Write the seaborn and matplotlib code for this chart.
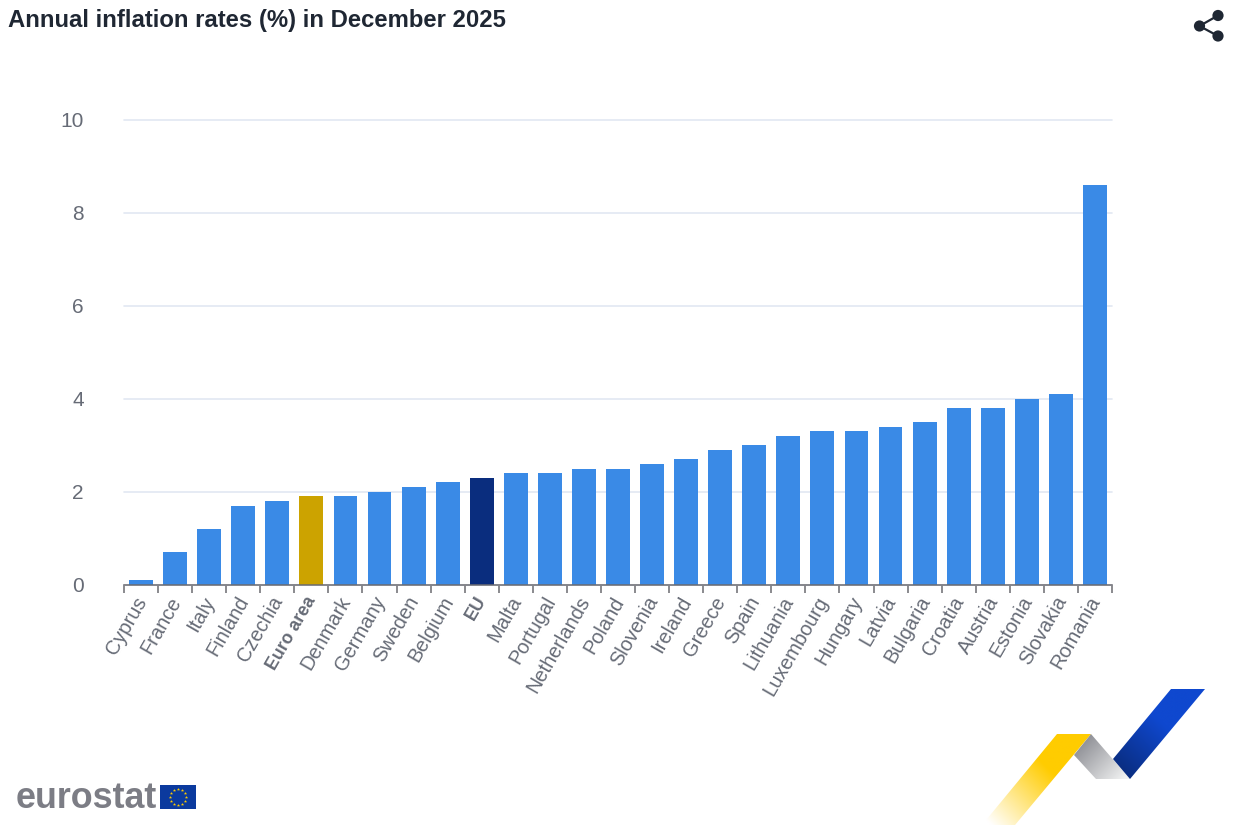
import numpy as np
import pandas as pd
import seaborn as sns
import matplotlib
matplotlib.use('Agg')
import matplotlib.pyplot as plt
from matplotlib.patches import Polygon, Circle, Rectangle
from matplotlib.transforms import ScaledTranslation

countries = ['Cyprus', 'France', 'Italy', 'Finland', 'Czechia', 'Euro area', 'Denmark', 'Germany',
             'Sweden', 'Belgium', 'EU', 'Malta', 'Portugal', 'Netherlands', 'Poland', 'Slovenia',
             'Ireland', 'Greece', 'Spain', 'Lithuania', 'Luxembourg', 'Hungary', 'Latvia', 'Bulgaria',
             'Croatia', 'Austria', 'Estonia', 'Slovakia', 'Romania']
rates = [0.1, 0.7, 1.2, 1.7, 1.8, 1.9, 1.9, 2.0, 2.1, 2.2, 2.3, 2.4, 2.4, 2.5, 2.5, 2.6, 2.7, 2.9,
         3.0, 3.2, 3.3, 3.3, 3.4, 3.5, 3.8, 3.8, 4.0, 4.1, 8.6]
y_ticks = [0, 2, 4, 6, 8, 10]

BLUE = '#3a8ae6'
special = {'Euro area': '#cca300', 'EU': '#0a2d7e'}
W, H = 1234, 825

sns.set_theme(style='white')
plt.rcParams['font.family'] = ['Liberation Sans', 'DejaVu Sans']

df = pd.DataFrame({'country': countries, 'rate': rates})
palette = {c: special.get(c, BLUE) for c in countries}

fig = plt.figure(figsize=(W / 100, H / 100), dpi=100, facecolor='white')
ax = fig.add_axes([124 / W, 1 - 584.8 / H, (1112 - 124) / W, (584.8 - 119.8) / H])
sns.barplot(data=df, x='country', y='rate', hue='country', palette=palette, order=countries,
            hue_order=countries, dodge=False, legend=False, width=0.7, saturation=1, ax=ax, zorder=3)
for bar in ax.patches:
    bar.set_edgecolor('none')

ax.set_xlim(-0.5, len(countries) - 0.5)
ax.set_ylim(0, 10)
ax.set_xlabel('')
ax.set_ylabel('')
ax.set_yticks(y_ticks)
ax.grid(axis='y', color='#e2e7f2', linewidth=1.2, zorder=0, clip_on=False)
ax.set_axisbelow(True)
sns.despine(ax=ax, left=True, top=True, right=True)
ax.spines['bottom'].set_color('#6b6b70')
ax.spines['bottom'].set_linewidth(1.1)
ax.spines['bottom'].set_zorder(5)

ax.set_xticks(np.arange(len(countries)))
ax.set_xticks(np.arange(len(countries) + 1) - 0.5, minor=True)
ax.tick_params(axis='x', which='major', length=0, pad=6)
ax.tick_params(axis='x', which='minor', length=6, width=1.1, color='#6b6b70', bottom=True)
ax.tick_params(axis='y', length=0, pad=29, labelsize=15, labelcolor='#666b76')
ax.set_xticklabels(countries, rotation=60, ha='right', va='top', rotation_mode='anchor',
                   fontsize=14.4, color='#666b76')
shift = ScaledTranslation(-5 / 72, 0, fig.dpi_scale_trans)
for lab in ax.get_xticklabels():
    lab.set_transform(lab.get_transform() + shift)
    if lab.get_text() in special:
        lab.set_fontweight('bold')
        lab.set_fontsize(12.8)

fig.text(8 / W, 1 - 27 / H, 'Annual inflation rates (%) in December 2025', fontsize=17.2,
         fontweight='bold', color='#1f2733', ha='left', va='baseline')

# decorations, in pixel coordinates
deco = fig.add_axes([0, 0, 1, 1], zorder=-1)
deco.set_xlim(0, W)
deco.set_ylim(H, 0)
deco.axis('off')


def ribbon(points, c0, c1, start, end):
    # polygon filled with a linear gradient from start to end
    x0, x1 = min(p[0] for p in points), max(p[0] for p in points)
    y0, y1 = min(p[1] for p in points), max(p[1] for p in points)
    xs, ys = np.meshgrid(np.linspace(x0, x1, 200), np.linspace(y0, y1, 200))
    d = np.array(end) - np.array(start)
    t = np.clip(((xs - start[0]) * d[0] + (ys - start[1]) * d[1]) / (d @ d), 0, 1)[..., None]
    img = np.array(matplotlib.colors.to_rgb(c0)) * (1 - t) + np.array(matplotlib.colors.to_rgb(c1)) * t
    im = deco.imshow(img, extent=(x0, x1, y1, y0), aspect='auto', interpolation='bilinear')
    im.set_clip_path(Polygon(points, transform=deco.transData))


ribbon([(1057, 734), (1091, 734), (1015, 825), (982, 825)], '#ffcc00', '#ffffff', (1050, 770), (992, 826))
ribbon([(1091, 734), (1074, 755), (1096, 779), (1130, 779)], '#8d8e94', '#f2f3f3', (1080, 742), (1122, 782))
ribbon([(1171, 689), (1205, 689), (1130, 779), (1113, 759)], '#0f48cf', '#0a2d80', (1165, 725), (1122, 772))
deco.set_xlim(0, W)
deco.set_ylim(H, 0)

# share icon
for cx, cy in [(1199.5, 26), (1218, 15.5), (1218, 36)]:
    deco.add_patch(Circle((cx, cy), 5.6, color='#1f2733', lw=0))
    deco.plot([1199.5, cx], [26, cy], color='#1f2733', lw=1.6)

# eurostat logo
deco.text(15.5, 808, 'eurostat', fontsize=25.8, fontweight='bold', color='#7c7d85', ha='left', va='baseline')
deco.add_patch(Rectangle((160, 785), 36, 24, color='#0b3a9e', lw=0))
star_angles = np.deg2rad(np.arange(0, 360, 30))
deco.scatter(178 + 8 * np.cos(star_angles), 797 + 8 * np.sin(star_angles), s=6, marker='*',
             color='#ffcc00', linewidths=0)

fig.savefig('out.png', dpi=100)
